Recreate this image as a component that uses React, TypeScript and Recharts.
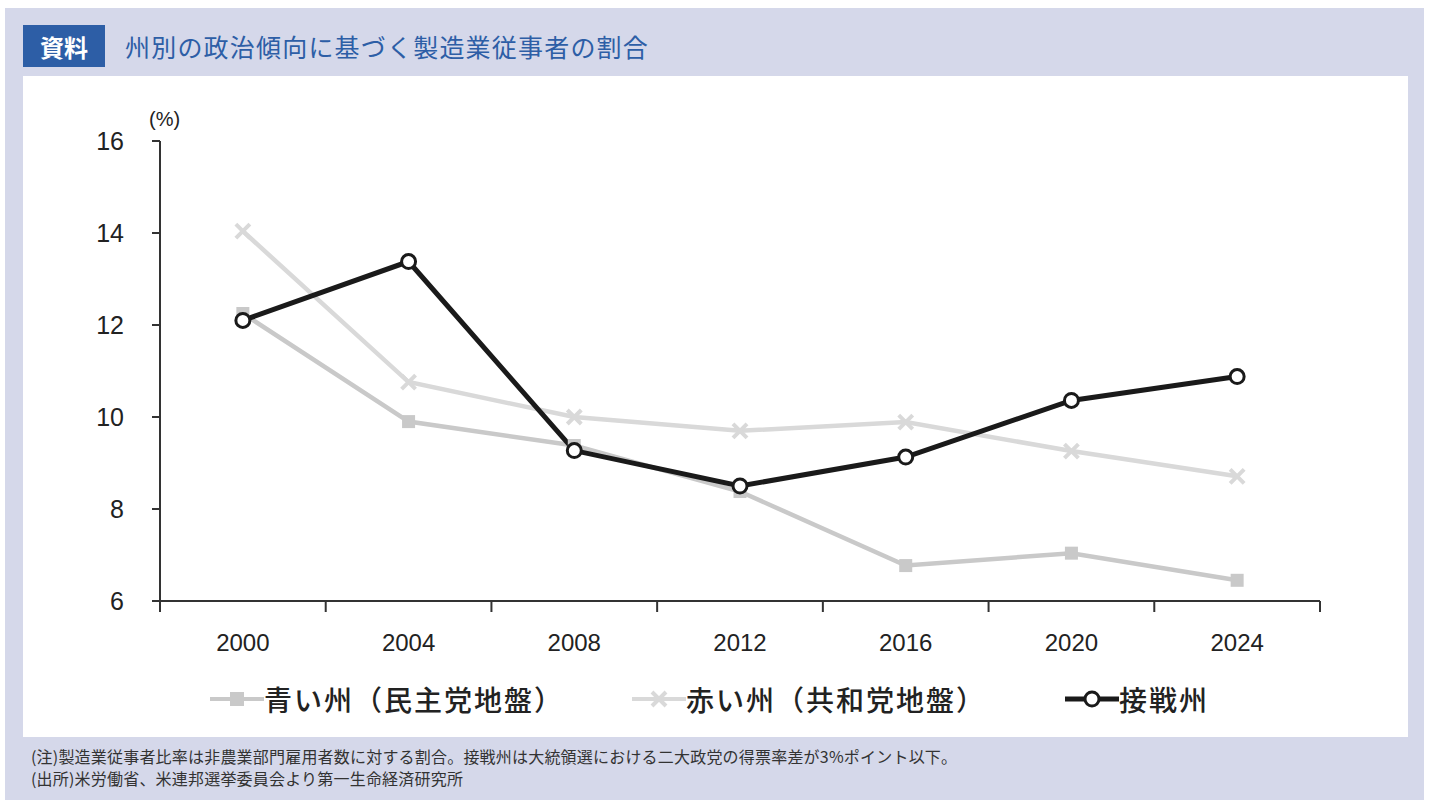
import { LineChart, Line, XAxis, YAxis } from 'recharts';

const years = ['2000', '2004', '2008', '2012', '2016', '2020', '2024'];
const blueStates = [12.25, 9.9, 9.38, 8.38, 6.77, 7.04, 6.45];
const redStates = [14.04, 10.76, 10.0, 9.7, 9.89, 9.26, 8.71];
const swingStates = [12.1, 13.38, 9.27, 8.5, 9.13, 10.36, 10.88];
const yTicks = [6, 8, 10, 12, 14, 16];

const data = years.map((y, i) => ({
  year: y,
  blue: blueStates[i],
  red: redStates[i],
  swing: swingStates[i],
}));

const CHART_W = 1385;
const CHART_H = 661;
const MARGIN = { top: 65, right: 88, left: 0, bottom: 0 };
const Y_AXIS_W = 137;
const PLOT_W = CHART_W - Y_AXIS_W - MARGIN.right;
const BAND = PLOT_W / years.length;

const BLUE = '#c9c9c9';
const RED = '#d9d9d9';
const DARK = '#1a1a1a';
const AXIS = '#333';
const tickFont = '"Liberation Sans", Arial, sans-serif';
const jpFont = '"Noto Sans CJK JP", "Noto Sans", sans-serif';

const SquareDot = (p: any) => {
  const { cx, cy } = p;
  if (cx == null || cy == null) return null;
  return <rect x={cx - 6.5} y={cy - 6.5} width={13} height={13} fill={BLUE} />;
};

const CrossDot = (p: any) => {
  const { cx, cy } = p;
  if (cx == null || cy == null) return null;
  return (
    <path
      d={`M${cx - 7},${cy - 7}L${cx + 7},${cy + 7}M${cx - 7},${cy + 7}L${cx + 7},${cy - 7}`}
      stroke={RED}
      strokeWidth={4}
    />
  );
};

const XTick = (p: any) => {
  const { x, y, payload, index } = p;
  const left = x - BAND / 2;
  return (
    <g>
      <line x1={left} y1={y - 8} x2={left} y2={y + 3} stroke={AXIS} strokeWidth={2} />
      {index === years.length - 1 && (
        <line x1={x + BAND / 2} y1={y - 8} x2={x + BAND / 2} y2={y + 3} stroke={AXIS} strokeWidth={2} />
      )}
      <text x={x} y={y + 42} textAnchor="middle" fontSize={24} fill="#222" fontFamily={tickFont}>
        {payload.value}
      </text>
    </g>
  );
};

function LegendItem({ kind, label, left }: { kind: 'blue' | 'red' | 'swing'; label: string; left: number }) {
  const color = kind === 'swing' ? DARK : kind === 'blue' ? BLUE : RED;
  return (
    <div style={{ position: 'absolute', left, top: 603, display: 'flex', alignItems: 'center' }}>
      <svg width={54} height={20}>
        <line x1={0} y1={10} x2={54} y2={10} stroke={color} strokeWidth={kind === 'swing' ? 5 : 4} />
        {kind === 'blue' && <rect x={20} y={3} width={14} height={14} fill={BLUE} />}
        {kind === 'red' && <path d="M20,3L34,17M20,17L34,3" stroke={RED} strokeWidth={4} />}
        {kind === 'swing' && <circle cx={27} cy={10} r={7} fill="#fff" stroke={DARK} strokeWidth={3} />}
      </svg>
      <span style={{ fontSize: 28, letterSpacing: 2, color: '#222', fontFamily: jpFont, fontWeight: 500 }}>{label}</span>
    </div>
  );
}

export default function App() {
  return (
    <div style={{ position: 'absolute', left: 0, top: 0, width: 1431, height: 807, background: '#fff', fontFamily: jpFont }}>
      <div style={{ position: 'absolute', left: 5, top: 8, width: 1419, height: 792, background: '#d5d8ea' }} />
      <div
        style={{
          position: 'absolute', left: 23, top: 25, width: 82, height: 42, background: '#2d5ea6',
          color: '#fff', fontSize: 24, fontWeight: 700, display: 'flex', alignItems: 'center', justifyContent: 'center',
        }}
      >
        資料
      </div>
      <div style={{ position: 'absolute', left: 125, top: 29, fontSize: 25, letterSpacing: 1.2, color: '#2d5ea6', lineHeight: '34px' }}>
        州別の政治傾向に基づく製造業従事者の割合
      </div>
      <div style={{ position: 'absolute', left: 23, top: 76, width: CHART_W, height: CHART_H, background: '#fff' }}>
        <LineChart width={CHART_W} height={CHART_H} data={data} margin={MARGIN}>
          <XAxis
            dataKey="year"
            scale="band"
            height={136}
            axisLine={{ stroke: AXIS, strokeWidth: 2 }}
            tickLine={false}
            tick={<XTick />}
            interval={0}
          />
          <YAxis
            width={Y_AXIS_W}
            domain={[6, 16]}
            ticks={yTicks}
            type="number"
            interval={0}
            axisLine={{ stroke: AXIS, strokeWidth: 2 }}
            tickLine={{ stroke: AXIS, strokeWidth: 2 }}
            tickSize={8}
            tick={{ fontSize: 25, fill: '#222', fontFamily: tickFont, dx: -26 }}
          />
          <Line dataKey="blue" stroke={BLUE} strokeWidth={4.5} dot={<SquareDot />} activeDot={false} isAnimationActive={false} />
          <Line dataKey="red" stroke={RED} strokeWidth={4.5} dot={<CrossDot />} activeDot={false} isAnimationActive={false} />
          <Line
            dataKey="swing"
            stroke={DARK}
            strokeWidth={5}
            dot={{ r: 7, fill: '#fff', stroke: DARK, strokeWidth: 3 }}
            activeDot={false}
            isAnimationActive={false}
          />
          <text x={126} y={50} fontSize={20} fill="#222" fontFamily={tickFont}>(%)</text>
        </LineChart>
        <LegendItem kind="blue" label="青い州（民主党地盤）" left={187} />
        <LegendItem kind="red" label="赤い州（共和党地盤）" left={609} />
        <LegendItem kind="swing" label="接戦州" left={1042} />
      </div>
      <div style={{ position: 'absolute', left: 31, top: 745, fontSize: 16, color: '#333', lineHeight: '22px', letterSpacing: 0.2 }}>
        <div>(注)製造業従事者比率は非農業部門雇用者数に対する割合。接戦州は大統領選における二大政党の得票率差が3%ポイント以下。</div>
        <div>(出所)米労働省、米連邦選挙委員会より第一生命経済研究所</div>
      </div>
    </div>
  );
}
